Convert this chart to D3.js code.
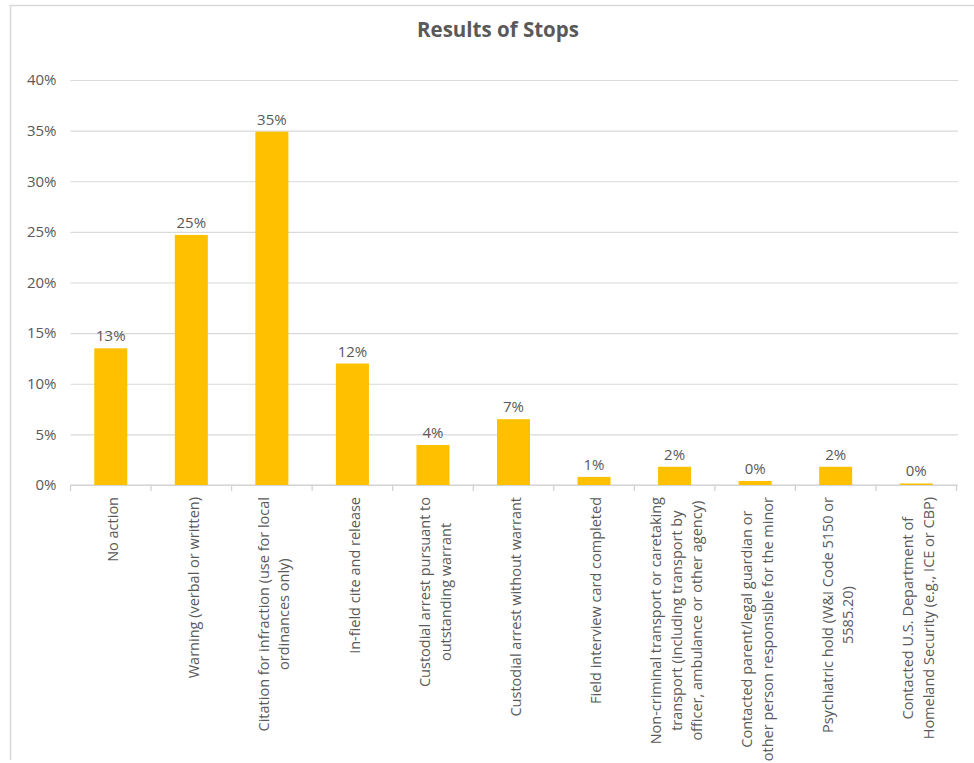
<!DOCTYPE html>
<html>
<head>
<meta charset="utf-8">
<script src="https://cdn.jsdelivr.net/npm/d3@7"></script>
<style>
  html, body { margin: 0; padding: 0; background: #fff; }
  svg { display: block; }
  text { font-family: "Open Sans", sans-serif; fill: #595959; }
</style>
</head>
<body>
<svg id="chart" width="974" height="763"></svg>
<script>
const categories = [
  ["No action"],
  ["Warning (verbal or written)"],
  ["Citation for infraction (use for local", "ordinances only)"],
  ["In-field cite and release"],
  ["Custodial arrest pursuant to", "outstanding warrant"],
  ["Custodial arrest without warrant"],
  ["Field interview card completed"],
  ["Non-criminal transport or caretaking", "transport (including transport by", "officer, ambulance or other agency)"],
  ["Contacted parent/legal guardian or", "other person responsible for the minor"],
  ["Psychiatric hold (W&I Code 5150 or", "5585.20)"],
  ["Contacted U.S. Department of", "Homeland Security (e.g., ICE or CBP)"]
];
const values = [0.135, 0.247, 0.349, 0.120, 0.0395, 0.065, 0.008, 0.018, 0.004, 0.018, 0.0015];
const valueLabels = ["13%", "25%", "35%", "12%", "4%", "7%", "1%", "2%", "0%", "2%", "0%"];
const yTicks = [0, 0.05, 0.10, 0.15, 0.20, 0.25, 0.30, 0.35, 0.40];
const title = "Results of Stops";

(function () {
const svg = d3.select("#chart");

// chart frame
svg.append("path")
  .attr("d", "M10.5,760 V5.5 H974")
  .attr("fill", "none").attr("stroke", "#d9d9d9").attr("stroke-width", 1.5);

const pLeft = 70.5, pRight = 956.5, pTop = 80, pBottom = 485;

const x = d3.scaleBand().domain(d3.range(categories.length)).range([pLeft, pRight]).paddingInner(0.59).paddingOuter(0.295);
const xb = d3.scaleBand().domain(d3.range(categories.length)).range([pLeft, pRight]);
const y = d3.scaleLinear().domain([0, 0.40]).range([pBottom, pTop]);

// title
svg.append("text").attr("x", 498).attr("y", 37).attr("text-anchor", "middle")
  .attr("font-size", 20.5).attr("font-weight", 700).text(title);

// gridlines + y labels
const yAxis = d3.axisLeft(y).tickValues(yTicks).tickSize(-(pRight - pLeft + 1.5)).tickFormat(d3.format(".0%")).tickPadding(14);
const gy = svg.append("g").attr("transform", `translate(${pLeft},0)`).call(yAxis);
gy.select(".domain").remove();
gy.selectAll(".tick line").attr("stroke", "#d9d9d9").attr("stroke-width", 1.2);
gy.selectAll(".tick text").attr("font-size", 15).attr("fill", "#595959").attr("font-family", "Open Sans");

// x axis with tick marks at category boundaries
svg.append("line").attr("x1", pLeft).attr("x2", pRight + 1).attr("y1", pBottom).attr("y2", pBottom)
  .attr("stroke", "#d0d0d0").attr("stroke-width", 1.2);
const bounds = d3.range(categories.length + 1).map(i => i < categories.length ? xb(i) : xb(categories.length - 1) + xb.bandwidth());
svg.append("g").selectAll("line").data(bounds).join("line")
  .attr("x1", d => d).attr("x2", d => d).attr("y1", pBottom).attr("y2", pBottom + 6)
  .attr("stroke", "#d0d0d0").attr("stroke-width", 1.2);

// bars
svg.append("g").selectAll("rect").data(values).join("rect")
  .attr("x", (d, i) => x(i)).attr("width", x.bandwidth())
  .attr("y", d => y(d)).attr("height", d => pBottom - y(d))
  .attr("fill", "#FFC000");

// data labels
svg.append("g").selectAll("text").data(values).join("text")
  .attr("x", (d, i) => x(i) + x.bandwidth() / 2).attr("y", d => y(d) - 7)
  .attr("text-anchor", "middle").attr("font-size", 15).text((d, i) => valueLabels[i]);

// category labels (rotated, multi-line, centered, top-aligned)
const labelTop = 497, lh = 20.7, fs = 14.5;
categories.forEach((lines, i) => {
  const cx = x(i) + x.bandwidth() / 2 + 2;
  const g = svg.append("g").attr("transform", `translate(${cx},0) rotate(-90)`);
  const ts = lines.map((t, j) => g.append("text").attr("font-size", fs).attr("fill", "#4d4d4d").text(t)
    .attr("dy", ((j - (lines.length - 1) / 2) * lh + fs * 0.36)));
  const L = d3.max(ts, t => t.node().getComputedTextLength());
  ts.forEach(t => t.attr("text-anchor", "middle").attr("x", -(labelTop + L / 2)));
});
})();
</script>
</body>
</html>
